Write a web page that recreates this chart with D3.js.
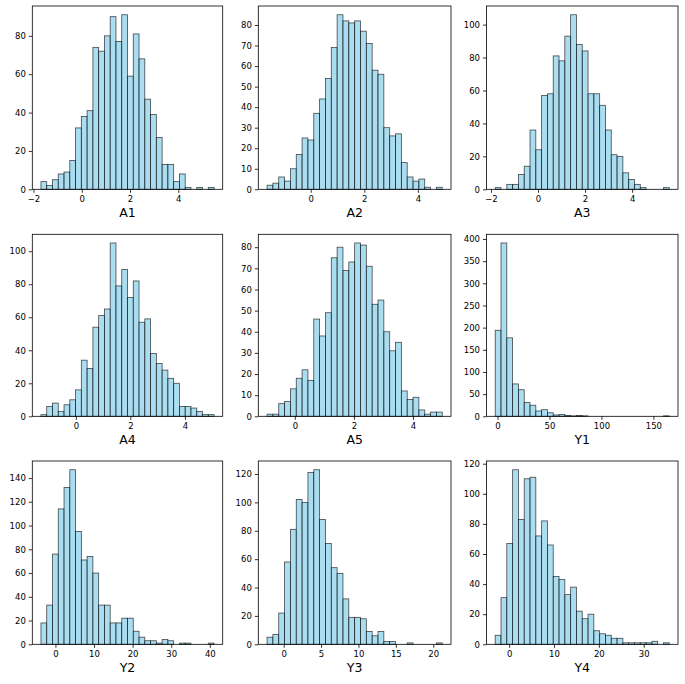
<!DOCTYPE html>
<html>
<head>
<meta charset="utf-8">
<script src="https://cdn.jsdelivr.net/npm/d3@7"></script>
<style>
  body { margin: 0; background: #fff; }
  svg { font-family: "DejaVu Sans", sans-serif; }
</style>
</head>
<body>
<div id="chart"></div>
<script>
// histogram counts (30 bins each)
const names = ["A1", "A2", "A3", "A4", "A5", "Y1", "Y2", "Y3", "Y4"];

const binRanges = [
  [-1.69, 5.48], [-1.63, 4.91], [-1.82, 5.58],
  [-1.28, 5.07], [-0.94, 4.99], [-2.2, 165.3],
  [-3.75, 41.1], [-2.22, 21.2], [-3.1, 35.7]
];

const countsA1 = [4,2,5,8,9,15,32,38,41,74,72,80,90,77,91,59,81,68,47,39,27,13,13,4,8,1,0,1,0,1];
const countsA2 = [2,3,6,4,10,17,25,24,37,44,54,69,85,82,81,82,77,71,58,56,30,26,27,13,6,4,5,1,0,1];
const countsA3 = [1,0,3,3,9,14,36,24,57,58,81,78,93,106,88,84,58,58,51,36,21,20,10,6,3,1,0,0,0,1];
const countsA4 = [1,6,8,3,7,10,16,34,29,54,61,65,105,79,89,72,82,57,59,38,32,28,23,20,6,6,5,3,1,1];
const countsA5 = [1,1,6,7,13,18,22,17,46,38,49,75,80,69,73,82,81,71,53,55,40,31,35,12,8,9,3,1,2,2];
const countsY1 = [194,391,177,73,60,31,25,12,15,8,3,4,2,1,2,1,0,0,0,0,0,0,0,0,0,0,0,0,0,1];
const countsY2 = [18,33,76,114,132,147,95,71,74,60,33,33,18,18,22,22,11,6,3,3,1,4,3,0,1,1,0,0,0,1];
const countsY3 = [5,7,22,58,81,102,100,121,123,88,71,54,50,32,19,19,18,9,6,9,2,2,0,0,1,0,0,0,0,1];
const countsY4 = [6,31,67,116,83,110,111,72,82,66,45,43,33,38,22,17,20,9,7,6,4,4,1,1,1,1,1,2,0,1];

const xTicks = [
  [-2,0,2,4], [0,2,4], [-2,0,2,4],
  [0,2,4], [0,2,4], [0,50,100,150],
  [0,10,20,30,40], [0,5,10,15,20], [0,10,20,30]
];
const yTicks = [
  [0,20,40,60,80], [0,10,20,30,40,50,60,70,80], [0,20,40,60,80,100],
  [0,20,40,60,80,100], [0,10,20,30,40,50,60,70,80], [0,50,100,150,200,250,300,350,400],
  [0,20,40,60,80,100,120,140], [0,20,40,60,80,100,120], [0,20,40,60,80,100,120]
];

const allCounts = [countsA1, countsA2, countsA3, countsA4, countsA5, countsY1, countsY2, countsY3, countsY4];

const W = 685, H = 684;
const colLeft = [32.3, 258.3, 486.5], colRight = [222.7, 451, 678];
const rowTop = [6, 234.3, 461], rowBottom = [189.3, 416.3, 644.3];

const svg = d3.select("#chart").append("svg")
  .attr("width", W)
  .attr("height", H);

names.forEach((name, k) => {
  const r = Math.floor(k / 3), c = k % 3;
  const counts = allCounts[k];
  const [lo, hi] = binRanges[k];
  const n = counts.length;
  const step = (hi - lo) / n;
  const bins = counts.map((v, i) => ({ x0: lo + i * step, x1: lo + (i + 1) * step, v: v }));

  const pad = (hi - lo) * 0.05;
  const x = d3.scaleLinear().domain([lo - pad, hi + pad]).range([colLeft[c], colRight[c]]);
  const y = d3.scaleLinear().domain([0, d3.max(counts) * 1.05]).range([rowBottom[r], rowTop[r]]);

  const g = svg.append("g");

  g.append("g")
    .selectAll("rect")
    .data(bins.filter(d => d.v > 0))
    .join("rect")
    .attr("x", d => x(d.x0))
    .attr("y", d => y(d.v))
    .attr("width", d => x(d.x1) - x(d.x0))
    .attr("height", d => y(0) - y(d.v))
    .attr("fill", "#87CEEB")
    .attr("fill-opacity", 0.7)
    .attr("stroke", "#000")
    .attr("stroke-opacity", 0.7)
    .attr("stroke-width", 0.8);

  // axes
  const xAxis = d3.axisBottom(x).tickValues(xTicks[k]).tickSize(3.5).tickPadding(3)
    .tickFormat(d => d < 0 ? "\u2212" + Math.abs(d) : d);
  const yAxis = d3.axisLeft(y).tickValues(yTicks[k]).tickSize(3.5).tickPadding(3);

  g.append("g")
    .attr("transform", `translate(0,${rowBottom[r]})`)
    .call(xAxis)
    .call(a => a.select(".domain").remove())
    .call(a => a.selectAll("text").attr("font-size", 8.5).attr("fill", "#000").attr("font-family", "DejaVu Sans"))
    .call(a => a.selectAll("line").attr("stroke", "#000").attr("stroke-width", 0.8));

  g.append("g")
    .attr("transform", `translate(${colLeft[c]},0)`)
    .call(yAxis)
    .call(a => a.select(".domain").remove())
    .call(a => a.selectAll("text").attr("font-size", 8.5).attr("fill", "#000").attr("font-family", "DejaVu Sans"))
    .call(a => a.selectAll("line").attr("stroke", "#000").attr("stroke-width", 0.8));

  // frame
  g.append("rect")
    .attr("x", colLeft[c])
    .attr("y", rowTop[r])
    .attr("width", colRight[c] - colLeft[c])
    .attr("height", rowBottom[r] - rowTop[r])
    .attr("fill", "none")
    .attr("stroke", "#000")
    .attr("stroke-width", 0.8);

  g.append("text")
    .attr("x", (colLeft[c] + colRight[c]) / 2)
    .attr("y", rowBottom[r] + 28)
    .attr("text-anchor", "middle")
    .attr("font-size", 12.5)
    .attr("fill", "#000")
    .text(name);
});
</script>
</body>
</html>
